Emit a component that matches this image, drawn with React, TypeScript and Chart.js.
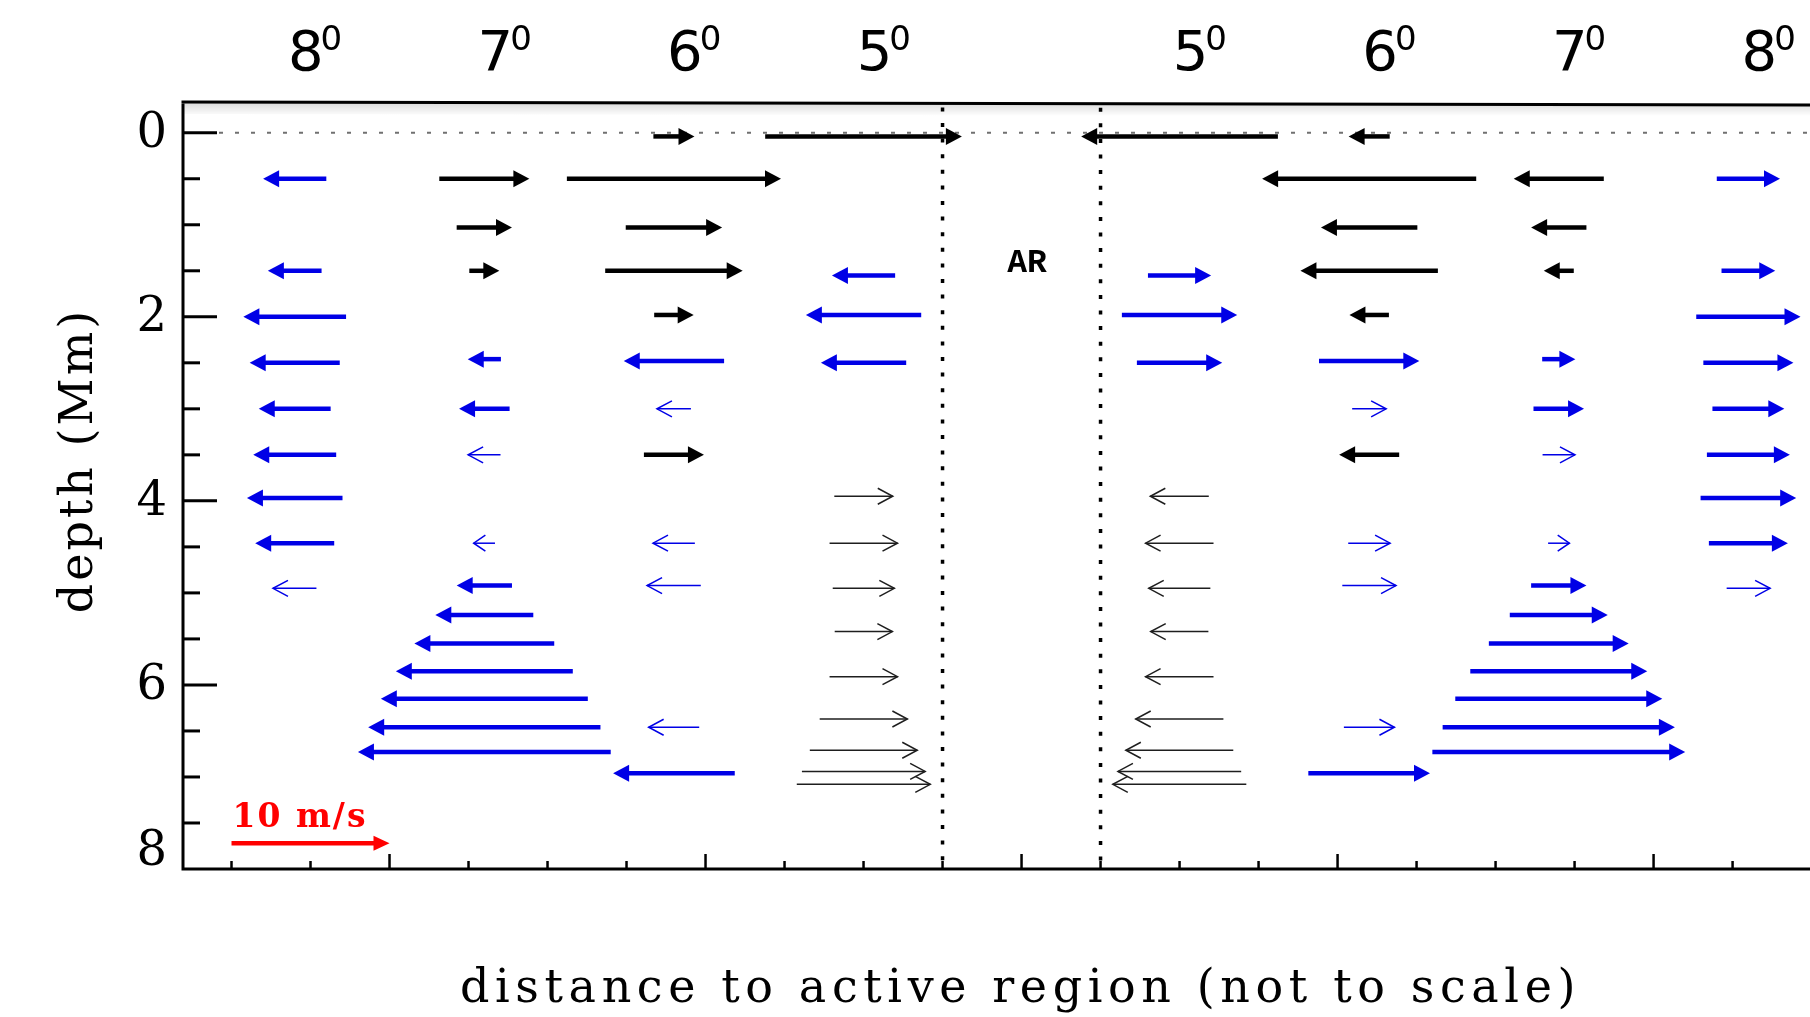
import React, { useEffect, useRef } from 'react';
import { Chart, registerables } from 'chart.js';

Chart.register(...registerables);

// ---------------- data ----------------
// x positions (plot units; one unit = one minor tick) of the eight latitude columns
const columnPositions = [0.8, 3.2, 5.6, 8.0, 12.0, 14.4, 16.8, 19.2];
const columnLabels = ['8', '7', '6', '5', '5', '6', '7', '8'];
const columnLabelSup = '0';

// active-region boundaries and label
const arBoundaries = [9, 11];
const arLabel = 'AR';
const arLabelX = 10.07;
const arLabelDepth = 1.42;

// axes
const xMin = -0.614;
const xMax = 19.98;
const yMin = -0.334;
const yMax = 8;
const yTickValues = [0, 2, 4, 6, 8];
const yMinorTickValues = [0, 0.5, 1, 1.5, 2, 2.5, 3, 3.5, 4, 4.5, 5, 5.5, 6, 6.5, 7, 7.5, 8];
const xTickValues = [0, 1, 2, 3, 4, 5, 6, 7, 8, 9, 10, 11, 12, 13, 14, 15, 16, 17, 18, 19];
const xMajorTickValues = [2, 6, 10, 14, 18];
const surfaceDepth = 0;

const xTitle = 'distance to active region (not to scale)';
const yTitle = 'depth (Mm)';

// velocity scale: 10 m/s spans 2 plot units
const unitsPerMs = 0.2;
const scaleArrowSpeed = 10;
const scaleArrowX = 0;
const scaleArrowDepth = 7.72;
const scaleLabel = '10 m/s';

// arrows: [column index, depth (Mm), velocity (m/s, + = towards right)]
type Row = [number, number, number];

const thickBlackArrows: Row[] = [
  [1, 0.5, 5.7], [1, 1.03, 3.5], [1, 1.5, 1.9],
  [2, 0.04, 2.6], [2, 0.5, 13.55], [2, 1.03, 6.1], [2, 1.5, 8.7], [2, 1.98, 2.5], [2, 3.5, 3.8],
  [3, 0.04, 12.45],
  [4, 0.04, -12.45],
  [5, 0.04, -2.6], [5, 0.5, -13.55], [5, 1.03, -6.1], [5, 1.5, -8.7], [5, 1.98, -2.5], [5, 3.5, -3.8],
  [6, 0.5, -5.7], [6, 1.03, -3.5], [6, 1.5, -1.9],
];

const thickBlueArrows: Row[] = [
  [0, 0.5, -4.0], [0, 1.5, -3.4], [0, 2.0, -6.5], [0, 2.5, -5.7], [0, 3.0, -4.55], [0, 3.5, -5.25], [0, 3.97, -6.05], [0, 4.46, -5.0],
  [1, 2.46, -2.1], [1, 3.0, -3.2], [1, 4.92, -3.5], [1, 5.24, -6.2], [1, 5.55, -8.85], [1, 5.85, -11.2], [1, 6.15, -13.1], [1, 6.46, -14.7], [1, 6.73, -16.0],
  [2, 2.48, -6.35], [2, 6.96, -7.7],
  [3, 1.55, -4.0], [3, 1.98, -7.3], [3, 2.5, -5.4],
  [4, 1.55, 4.0], [4, 1.98, 7.3], [4, 2.5, 5.4],
  [5, 2.48, 6.35], [5, 6.96, 7.7],
  [6, 2.46, 2.1], [6, 3.0, 3.2], [6, 4.92, 3.5], [6, 5.24, 6.2], [6, 5.55, 8.85], [6, 5.85, 11.2], [6, 6.15, 13.1], [6, 6.46, 14.7], [6, 6.73, 16.0],
  [7, 0.5, 4.0], [7, 1.5, 3.4], [7, 2.0, 6.6], [7, 2.5, 5.7], [7, 3.0, 4.55], [7, 3.5, 5.25], [7, 3.97, 6.05], [7, 4.46, 5.0],
];

const thinBlueArrows: Row[] = [
  [0, 4.95, -2.75],
  [1, 3.5, -2.05], [1, 4.46, -1.35],
  [2, 3.0, -2.15], [2, 4.46, -2.65], [2, 4.92, -3.4], [2, 6.46, -3.2],
  [5, 3.0, 2.15], [5, 4.46, 2.65], [5, 4.92, 3.4], [5, 6.46, 3.2],
  [6, 3.5, 2.05], [6, 4.46, 1.35],
  [7, 4.95, 2.75],
];

const thinBlackArrows: Row[] = [
  [3, 3.95, 3.7], [3, 4.46, 4.3], [3, 4.95, 3.9], [3, 5.42, 3.65], [3, 5.91, 4.3], [3, 6.37, 5.55], [3, 6.71, 6.8], [3, 6.94, 7.8], [3, 7.08, 8.45],
  [4, 3.95, -3.7], [4, 4.46, -4.3], [4, 4.95, -3.9], [4, 5.42, -3.65], [4, 5.91, -4.3], [4, 6.37, -5.55], [4, 6.71, -6.8], [4, 6.94, -7.8], [4, 7.08, -8.45],
];

// ---------------- styles ----------------
const BLACK = '#000000';
const BLUE = '#0000e6';
const RED = '#ff0000';
const THIN_BLACK = '#1e1e1e';

const toPoints = (rows: Row[]) => rows.map(([c, d, v]) => ({ x: columnPositions[c], y: d, v }));

function drawThickArrow(ctx: CanvasRenderingContext2D, x0: number, x1: number, y: number, color: string, headHalf = 8.5) {
  const dir = x1 >= x0 ? 1 : -1;
  const len = Math.abs(x1 - x0);
  const hl = Math.min(16, len * 0.7);
  const base = x1 - dir * hl;
  ctx.strokeStyle = color;
  ctx.fillStyle = color;
  ctx.lineWidth = 4.5;
  ctx.lineCap = 'butt';
  ctx.setLineDash([]);
  ctx.beginPath();
  ctx.moveTo(x0, y);
  ctx.lineTo(base + dir * 1, y);
  ctx.stroke();
  ctx.beginPath();
  ctx.moveTo(x1, y);
  ctx.lineTo(base, y - headHalf);
  ctx.lineTo(base, y + headHalf);
  ctx.closePath();
  ctx.fill();
}

function drawThinArrow(ctx: CanvasRenderingContext2D, x0: number, x1: number, y: number, color: string) {
  const dir = x1 >= x0 ? 1 : -1;
  const len = Math.abs(x1 - x0);
  const hl = Math.min(15, len * 0.55);
  const hh = 8;
  ctx.strokeStyle = color;
  ctx.lineWidth = 1.5;
  ctx.lineCap = 'butt';
  ctx.lineJoin = 'miter';
  ctx.setLineDash([]);
  ctx.beginPath();
  ctx.moveTo(x0, y);
  ctx.lineTo(x1, y);
  ctx.stroke();
  ctx.beginPath();
  ctx.moveTo(x1 - dir * hl, y - hh);
  ctx.lineTo(x1, y);
  ctx.lineTo(x1 - dir * hl, y + hh);
  ctx.stroke();
}

const figurePlugin = {
  id: 'figurePlugin',
  beforeDraw(chart: any) {
    const { ctx, width, height } = chart;
    ctx.save();
    ctx.fillStyle = '#ffffff';
    ctx.fillRect(0, 0, width, height);
    ctx.restore();
  },
  beforeDatasetsDraw(chart: any) {
    const { ctx, chartArea } = chart;
    const xs = chart.scales.x;
    const ys = chart.scales.y;
    ctx.save();
    // shadow under top frame (frame is slightly tilted)
    const w = chartArea.right - chartArea.left;
    ctx.beginPath();
    ctx.moveTo(chartArea.left, chartArea.top);
    ctx.lineTo(chartArea.right, chartArea.top + 3);
    ctx.lineTo(chartArea.right, chartArea.top + 15);
    ctx.lineTo(chartArea.left, chartArea.top + 12);
    ctx.closePath();
    const g = ctx.createLinearGradient(0, chartArea.top, 0, chartArea.top + 14);
    g.addColorStop(0, 'rgba(0,0,0,0.15)');
    g.addColorStop(1, 'rgba(0,0,0,0)');
    ctx.fillStyle = g;
    ctx.fill();
    // surface dashed line
    const y0 = ys.getPixelForValue(surfaceDepth);
    ctx.strokeStyle = '#707070';
    ctx.lineWidth = 2;
    ctx.setLineDash([4, 12]);
    ctx.beginPath();
    ctx.moveTo(chartArea.left + 36, y0);
    ctx.lineTo(chartArea.right, y0);
    ctx.stroke();
    // AR boundaries
    ctx.strokeStyle = BLACK;
    ctx.lineWidth = 3.5;
    ctx.setLineDash([4, 11.6]);
    arBoundaries.forEach((b) => {
      const px = xs.getPixelForValue(b);
      ctx.beginPath();
      ctx.moveTo(px, chartArea.top + 4 + (3 * (px - chartArea.left)) / w);
      ctx.lineTo(px, chartArea.bottom);
      ctx.stroke();
    });
    ctx.restore();
  },
  afterDatasetsDraw(chart: any) {
    const { ctx } = chart;
    const xs = chart.scales.x;
    ctx.save();
    chart.data.datasets.forEach((ds: any, i: number) => {
      const meta = chart.getDatasetMeta(i);
      ds.data.forEach((p: any, j: number) => {
        const el = meta.data[j];
        const y = el.y;
        const half = (p.v * unitsPerMs) / 2;
        const x0 = xs.getPixelForValue(p.x - half);
        const x1 = xs.getPixelForValue(p.x + half);
        if (ds.arrowStyle === 'thickBlack') drawThickArrow(ctx, x0, x1, y, BLACK);
        else if (ds.arrowStyle === 'thickBlue') drawThickArrow(ctx, x0, x1, y, BLUE);
        else if (ds.arrowStyle === 'thinBlue') drawThinArrow(ctx, x0, x1, y, BLUE);
        else if (ds.arrowStyle === 'thinBlack') drawThinArrow(ctx, x0, x1, y, THIN_BLACK);
      });
    });
    ctx.restore();
  },
  afterDraw(chart: any) {
    const { ctx, chartArea } = chart;
    const xs = chart.scales.x;
    const ys = chart.scales.y;
    const { left, right, top, bottom } = chartArea;
    ctx.save();
    ctx.setLineDash([]);
    ctx.strokeStyle = BLACK;
    ctx.lineCap = 'butt';

    // frame
    ctx.lineWidth = 3;
    ctx.beginPath();
    ctx.moveTo(left - 1.5, top);
    ctx.lineTo(right, top + 3);
    ctx.moveTo(left, top);
    ctx.lineTo(left, bottom + 1.5);
    ctx.moveTo(left - 1.5, bottom);
    ctx.lineTo(right, bottom);
    ctx.stroke();

    // y ticks (inward)
    ctx.lineWidth = 3;
    yMinorTickValues.forEach((v) => {
      const py = ys.getPixelForValue(v);
      if (py >= bottom - 1) return;
      const len = yTickValues.includes(v) ? 34 : 17;
      ctx.beginPath();
      ctx.moveTo(left, py);
      ctx.lineTo(left + len, py);
      ctx.stroke();
    });
    // x ticks (inward)
    ctx.lineWidth = 2.5;
    xTickValues.forEach((v) => {
      const px = xs.getPixelForValue(v);
      if (px > right) return;
      const len = xMajorTickValues.includes(v) ? 15 : 8;
      ctx.beginPath();
      ctx.moveTo(px, bottom);
      ctx.lineTo(px, bottom - len);
      ctx.stroke();
    });

    // y tick labels
    ctx.fillStyle = BLACK;
    ctx.font = '48px "DejaVu Serif"';
    ctx.textAlign = 'right';
    ctx.textBaseline = 'middle';
    yTickValues.forEach((v) => {
      const py = Math.min(ys.getPixelForValue(v) + 2, bottom - 16);
      ctx.fillText(String(v), left - 16, py);
    });

    // column labels on top
    ctx.textBaseline = 'alphabetic';
    columnPositions.forEach((c, i) => {
      const px = xs.getPixelForValue(c) + 11;
      ctx.font = '56px "DejaVu Sans"';
      ctx.textAlign = 'center';
      ctx.fillText(columnLabels[i], px, 70);
      const tw = ctx.measureText(columnLabels[i]).width;
      ctx.font = '34px "DejaVu Sans"';
      ctx.textAlign = 'left';
      ctx.fillText(columnLabelSup, px + tw / 2 - 3, 50);
    });

    // AR label
    ctx.font = 'bold 33px "Liberation Mono"';
    ctx.textAlign = 'center';
    ctx.textBaseline = 'middle';
    ctx.fillText(arLabel, xs.getPixelForValue(arLabelX), ys.getPixelForValue(arLabelDepth));

    // velocity scale arrow
    const sx0 = xs.getPixelForValue(scaleArrowX);
    const sx1 = xs.getPixelForValue(scaleArrowX + scaleArrowSpeed * unitsPerMs);
    const sy = ys.getPixelForValue(scaleArrowDepth);
    drawThickArrow(ctx, sx0, sx1, sy, RED, 7.5);
    ctx.fillStyle = RED;
    ctx.font = 'bold 33px "DejaVu Serif"';
    (ctx as any).letterSpacing = '2px';
    ctx.textAlign = 'left';
    ctx.textBaseline = 'alphabetic';
    ctx.fillText(scaleLabel, sx0 + 1, sy - 16);

    // axis titles
    ctx.fillStyle = BLACK;
    ctx.font = '46px "DejaVu Serif"';
    (ctx as any).letterSpacing = '5.6px';
    const xw = ctx.measureText(xTitle).width;
    ctx.textAlign = 'left';
    ctx.fillText(xTitle, (left + right) / 2 + 24 - xw / 2, bottom + 133);

    (ctx as any).letterSpacing = '3px';
    ctx.translate(92, (top + bottom) / 2 - 25);
    ctx.rotate(-Math.PI / 2);
    const yw = ctx.measureText(yTitle).width;
    ctx.fillText(yTitle, -yw / 2, 0);
    ctx.restore();
  },
};

export default function App() {
  const canvasRef = useRef<HTMLCanvasElement | null>(null);

  useEffect(() => {
    const canvas = canvasRef.current;
    if (!canvas) return;
    const hidden = { pointRadius: 0, pointHoverRadius: 0, showLine: false };
    const chart = new Chart(canvas, {
      type: 'scatter',
      data: {
        datasets: [
          { label: 'thick black', data: toPoints(thickBlackArrows), arrowStyle: 'thickBlack', ...hidden } as any,
          { label: 'thick blue', data: toPoints(thickBlueArrows), arrowStyle: 'thickBlue', ...hidden } as any,
          { label: 'thin blue', data: toPoints(thinBlueArrows), arrowStyle: 'thinBlue', ...hidden } as any,
          { label: 'thin black', data: toPoints(thinBlackArrows), arrowStyle: 'thinBlack', ...hidden } as any,
        ],
      },
      options: {
        animation: false,
        responsive: false,
        maintainAspectRatio: false,
        devicePixelRatio: 1,
        layout: { padding: { top: 102, left: 0, right: 0, bottom: 0 } },
        plugins: { legend: { display: false }, tooltip: { enabled: false } },
        events: [],
        scales: {
          x: {
            type: 'linear',
            min: xMin,
            max: xMax,
            ticks: { display: false },
            grid: { display: false, drawTicks: false },
            border: { display: false },
            afterFit: (s: any) => { s.height = 148; },
          },
          y: {
            type: 'linear',
            reverse: true,
            min: yMin,
            max: yMax,
            ticks: { display: false },
            grid: { display: false, drawTicks: false },
            border: { display: false },
            afterBuildTicks: (s: any) => { s.ticks = yTickValues.map((v) => ({ value: v })); },
            afterFit: (s: any) => { s.width = 183; },
          },
        },
      } as any,
      plugins: [figurePlugin],
    });
    return () => chart.destroy();
  }, []);

  return (
    <div style={{ position: 'absolute', left: 0, top: 0, width: 1810, height: 1017, background: '#fff' }}>
      <canvas ref={canvasRef} width={1810} height={1017} style={{ display: 'block' }} />
    </div>
  );
}
